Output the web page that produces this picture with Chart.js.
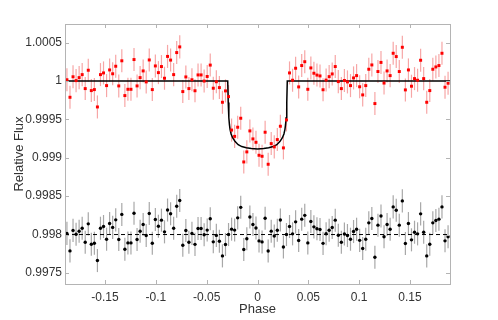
<!DOCTYPE html>
<html>
<head>
<meta charset="utf-8">
<script src="https://cdn.jsdelivr.net/npm/chart.js@4.4.1/dist/chart.umd.min.js"></script>
<style>
  body { margin: 0; background: #fff; }
  #wrap { width: 498px; height: 320px; }
</style>
</head>
<body>
<div id="wrap"><canvas id="lc"></canvas></div>
<script>
// phase-folded light curve, 126 bins (0.003 in phase, from -0.1875)
const flux = [
  1.000015, 0.999787, 1.000054, 1.000004, 1.000043, 1.000082, 0.9999, 1.000139, 0.999874, 0.999887,
  0.999661, 1.000082, 1.000104, 0.999939, 1.000143, 1.000093, 1.000191, 0.999935, 1.000262, 0.999809,
  0.999891, 0.999891, 1.000278, 0.999935, 1.000043, 1.00013, 0.999987, 1.000273, 0.999887, 1.000195,
  1.000108, 1.000187, 1.000035, 1.000319, 1.000271, 1.000082, 1.000369, 1.000443, 0.999861, 1.000052,
  0.9999, 1.000015, 0.999872, 1.000078, 1.000078, 0.999998, 1.000058, 1.000206, 0.999905, 0.999989,
  0.999913, 0.999722, 0.99987, 0.999796, 0.99936, 0.999278, 0.999397, 0.999514, 0.998945, 0.999076,
  0.999349, 0.999245, 0.999201, 0.999032, 0.999019, 0.999332, 0.998915, 0.999184, 0.999141, 0.999236,
  0.99941, 0.999128, 0.999492, 1.000104, 1.000009, 1.000165, 0.999922, 1.0002, 1.00025, 0.999891,
  1.000169, 1.0001, 1.000076, 1.000065, 0.999885, 1.000011, 1.000056, 1.000091, 1.000187, 0.999991,
  0.9999, 1.000006, 0.999987, 0.999939, 1.000039, 1.000069, 0.999924, 0.999818, 0.999939, 1.000152,
  1.000208, 0.999705, 1.000122, 1.000241, 0.999972, 1.00013, 1.000069, 1.00036, 1.000317, 1.000122,
  1.000438, 0.999883, 1.000143, 0.999931, 1.00003, 1.000009, 1.000269, 1.00003, 0.999722, 0.999874,
  1.000152, 1.000182, 1.0002, 1.00036, 0.999918, 0.99997
];

// residuals, shifted down to 0.998
const resid = [
  0.998015, 0.997787, 0.998054, 0.998004, 0.998043, 0.998082, 0.9979, 0.998139, 0.997874, 0.997887,
  0.997661, 0.998082, 0.998104, 0.997939, 0.998143, 0.998093, 0.998191, 0.997935, 0.998262, 0.997809,
  0.997891, 0.997891, 0.998278, 0.997935, 0.998043, 0.99813, 0.997987, 0.998273, 0.997887, 0.998195,
  0.998108, 0.998187, 0.998035, 0.998319, 0.998271, 0.998082, 0.998369, 0.998443, 0.997861, 0.998052,
  0.9979, 0.998015, 0.997872, 0.998078, 0.998078, 0.997998, 0.998058, 0.998206, 0.997905, 0.997989,
  0.997913, 0.997722, 0.99787, 0.998, 0.99807, 0.998058, 0.998217, 0.998354, 0.997805, 0.997946,
  0.998229, 0.99813, 0.998086, 0.997917, 0.997904, 0.998212, 0.997785, 0.998044, 0.997981, 0.998056,
  0.99819, 0.997838, 0.998, 0.998104, 0.998009, 0.998165, 0.997922, 0.9982, 0.99825, 0.997891,
  0.998169, 0.9981, 0.998076, 0.998065, 0.997885, 0.998011, 0.998056, 0.998091, 0.998187, 0.997991,
  0.9979, 0.998006, 0.997987, 0.997939, 0.998039, 0.998069, 0.997924, 0.997818, 0.997939, 0.998152,
  0.998208, 0.997705, 0.998122, 0.998241, 0.997972, 0.99813, 0.998069, 0.99836, 0.998317, 0.998122,
  0.998438, 0.997883, 0.998143, 0.997931, 0.99803, 0.998009, 0.998269, 0.99803, 0.997722, 0.997874,
  0.998152, 0.998182, 0.9982, 0.99836, 0.997918, 0.99797
];

const fluxErr = 0.00015;

// transit model
const modelPhase = [-0.1894, -0.0293, -0.0288, -0.0282, -0.0276, -0.027, -0.026, -0.0245, -0.022, -0.019,
  -0.0155, -0.011, -0.006, 0, 0.006, 0.011, 0.0155, 0.019, 0.022, 0.0245, 0.026, 0.027, 0.0276, 0.0282,
  0.0288, 0.0293, 0.1894];
const modelFlux = [1, 1, 0.99972, 0.99952, 0.99943, 0.99937, 0.99931, 0.99926, 0.99921, 0.99917,
  0.999145, 0.99913, 0.99912, 0.999115, 0.99912, 0.99913, 0.999145, 0.99917, 0.99921, 0.99926, 0.99931,
  0.99937, 0.99943, 0.99952, 0.99972, 1, 1];

const residLevel = 0.998;
const xTicks = [-0.15, -0.1, -0.05, 0, 0.05, 0.1, 0.15];
const yTicks = [0.9975, 0.998, 0.9985, 0.999, 0.9995, 1, 1.0005];

const phase = flux.map((_, i) => -0.1875 + 0.003 * i);

const redPts = phase.map((p, i) => ({ x: p, y: flux[i] }));
const blackPts = phase.map((p, i) => ({ x: p, y: resid[i] }));
const modelPts = modelPhase.map((p, i) => ({ x: p, y: modelFlux[i] }));

// error bars + matlab style box with inward ticks
const errBars = {
  id: 'errBars',
  beforeDatasetsDraw(chart) {
    const { ctx, scales: { x, y } } = chart;
    ctx.save();
    ctx.lineWidth = 1.2;
    const draw = (pts, color) => {
      ctx.strokeStyle = color;
      pts.forEach(pt => {
        const px = x.getPixelForValue(pt.x);
        ctx.beginPath();
        ctx.moveTo(px, y.getPixelForValue(pt.y - fluxErr));
        ctx.lineTo(px, y.getPixelForValue(pt.y + fluxErr));
        ctx.stroke();
      });
    };
    draw(redPts, '#f7a6a6');
    draw(blackPts, '#a8a8a8');
    ctx.restore();
  },
  afterDraw(chart) {
    const { ctx, chartArea: a, scales: { x, y } } = chart;
    ctx.save();
    ctx.strokeStyle = '#b4b4b4';
    ctx.lineWidth = 1;
    ctx.strokeRect(Math.round(a.left) + 0.5, Math.round(a.top) + 0.5,
      Math.round(a.right - a.left), Math.round(a.bottom - a.top));
    ctx.beginPath();
    xTicks.forEach(v => {
      const px = Math.round(x.getPixelForValue(v)) + 0.5;
      ctx.moveTo(px, a.bottom); ctx.lineTo(px, a.bottom - 4);
      ctx.moveTo(px, a.top); ctx.lineTo(px, a.top + 4);
    });
    yTicks.forEach(v => {
      const py = Math.round(y.getPixelForValue(v)) + 0.5;
      ctx.moveTo(a.left, py); ctx.lineTo(a.left + 4, py);
      ctx.moveTo(a.right, py); ctx.lineTo(a.right - 4, py);
    });
    ctx.stroke();
    ctx.restore();
  }
};

new Chart(document.getElementById('lc'), {
  type: 'scatter',
  data: {
    datasets: [
      {
        data: redPts,
        pointStyle: 'rect',
        pointRadius: 2.1,
        backgroundColor: '#ff0000',
        borderWidth: 0
      },
      {
        data: blackPts,
        pointRadius: 1.7,
        backgroundColor: '#000',
        borderWidth: 0
      },
      {
        type: 'line',
        data: modelPts,
        borderColor: '#000',
        borderWidth: 1.5,
        pointRadius: 0,
        tension: 0
      },
      {
        type: 'line',
        data: [{ x: -0.1894, y: residLevel }, { x: 0.1894, y: residLevel }],
        borderColor: '#000',
        borderWidth: 1,
        borderDash: [4, 3],
        pointRadius: 0
      }
    ]
  },
  options: {
    responsive: true,
    maintainAspectRatio: false,
    animation: false,
    layout: { padding: { top: 24, right: 48, left: 0, bottom: 0 } },
    plugins: { legend: { display: false }, tooltip: { enabled: false } },
    scales: {
      x: {
        type: 'linear',
        min: -0.1894,
        max: 0.1894,
        afterBuildTicks: s => { s.ticks = xTicks.map(v => ({ value: v })); },
        afterFit: s => { s.height = 36; },
        grid: { display: false, drawTicks: false },
        border: { display: false },
        ticks: {
          padding: 6,
          color: '#333',
          font: { family: 'Liberation Sans', size: 12 },
          callback: v => String(parseFloat(v.toFixed(3)))
        },
        title: {
          display: true,
          text: 'Phase',
          color: '#333',
          font: { family: 'Liberation Sans', size: 13 },
          padding: { top: 0, bottom: 3 }
        }
      },
      y: {
        min: 0.997356,
        max: 1.000741,
        afterBuildTicks: s => { s.ticks = yTicks.map(v => ({ value: v })); },
        afterFit: s => { s.width = 65; },
        grid: { display: false, drawTicks: false },
        border: { display: false },
        ticks: {
          padding: 3,
          color: '#333',
          font: { family: 'Liberation Sans', size: 12 },
          callback: v => String(parseFloat(v.toFixed(4)))
        },
        title: {
          display: true,
          text: 'Relative Flux',
          color: '#333',
          font: { family: 'Liberation Sans', size: 13 },
          padding: { top: 12, bottom: 0 }
        }
      }
    }
  },
  plugins: [errBars]
});
</script>
</body>
</html>
